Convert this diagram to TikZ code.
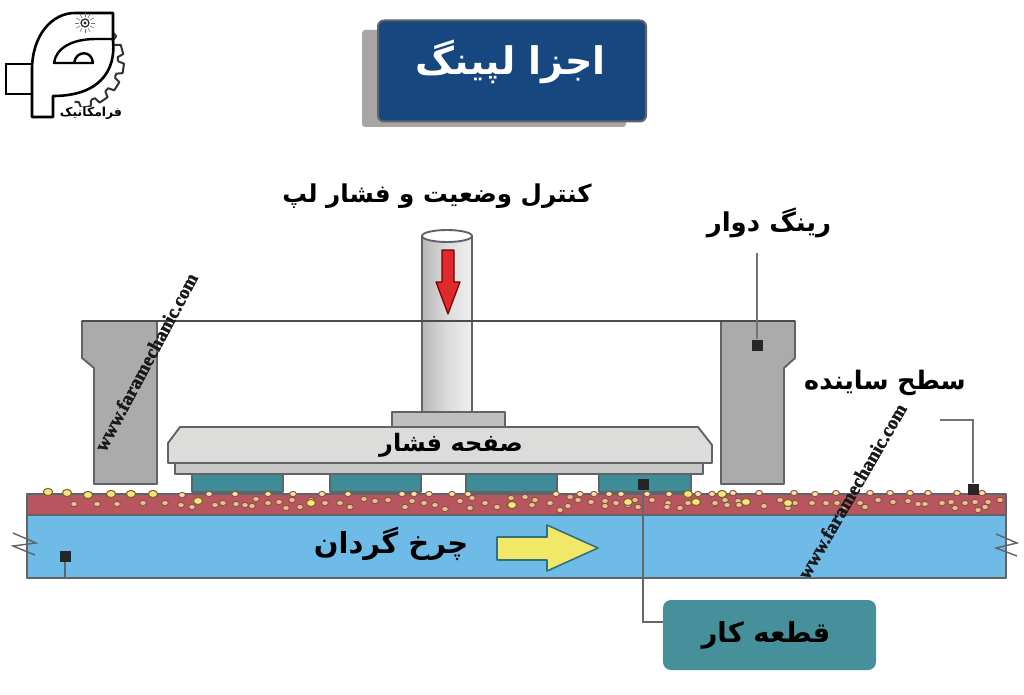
\documentclass[tikz,border=0pt]{standalone}
\usepackage{fontspec}
\setmainfont{Liberation Serif}
\newfontfamily\arabicfont[Script=Arabic,BoldFont={DejaVu Sans Bold}]{DejaVu Sans}
\newfontfamily\wmfont[BoldFeatures={FakeBold=1.6}]{Liberation Serif}
\TeXXeTstate=1
\definecolor{edge}{HTML}{5E6468}
\definecolor{ringg}{HTML}{ABABAB}
\definecolor{plateg}{HTML}{DCDCDA}
\definecolor{teal1}{HTML}{3F8C99}
\definecolor{red1}{HTML}{B8565F}
\definecolor{blue1}{HTML}{6FBBE8}
\definecolor{navy}{HTML}{17477F}
\definecolor{boxteal}{HTML}{45909A}
\definecolor{shadowg}{HTML}{A9A5A5}
\definecolor{arrowred}{HTML}{DE2A2C}
\definecolor{arrowyel}{HTML}{F2E868}
\tikzset{
  part/.style={draw=edge,line width=1.9pt,line join=round},
  lead/.style={draw=black!55,line width=1.8pt},
  mark box/.style={fill=black!85,draw=none,minimum size=11pt,inner sep=0pt},
  label/.style={font=\arabicfont\bfseries,text=black,inner sep=0pt},
  wm/.style={text=black!90,inner sep=0pt},
  grain/.style={draw=red!35!black!70,fill=red1!60!yellow!60!white,line width=.9pt},
  gold/.style={draw=olive!75!black,fill=yellow!55!orange!45!white,line width=1.1pt},
}
\begin{document}
\begin{tikzpicture}[x=1pt,y=-1pt]
\useasboundingbox (0,0) rectangle (1024,695);
\fill[white] (0,0) rectangle (1024,695);
% title
\fill[shadowg,rounded corners=3pt] (362,30) rectangle (626,127);
\node[draw=edge,line width=2pt,fill=navy,rounded corners=6pt,minimum width=268pt,minimum height=101pt,inner sep=0pt] (title) at (512,71) {};
\node[label,text=white,font=\arabicfont\bfseries\fontsize{38}{40}\selectfont] (titlet) at (511,62) {\beginR اجزا لپینگ\endR};
% wheel layers
\path[part,fill=blue1] (27,515) rectangle (1006,578);
\path[part,fill=red1] (27,494) rectangle (1006,515);
% workpieces
\foreach \a/\b in {192/283,330/421,466/557,599/691}
  \path[part,fill=teal1] (\a,474) rectangle (\b,492);
% rings
\path[part,fill=ringg] (82,321) -- (157,321) -- (157,484) -- (94,484) -- (94,368) -- (82,358) -- cycle;
\path[part,fill=ringg] (721,321) -- (795,321) -- (795,358) -- (784,368) -- (784,484) -- (721,484) -- cycle;
% pressure plate
\path[part,fill=black!22] (175,463) rectangle (703,474);
\path[part,fill=plateg] (180,427) -- (698,427) -- (712,445) -- (712,463) -- (168,463) -- (168,443) -- cycle;
\path[part,fill=black!25] (392,412) rectangle (505,427);
% cylinder
\path[part,left color=black!28,right color=black!6,middle color=black!14] (422,236) -- (422,412) -- (472,412) -- (472,236) -- cycle;
\path[part,fill=white] (447,236) ellipse [x radius=25,y radius=6];
\draw[black!70,line width=1.6pt] (82,321) -- (795,321);
% arrows
\path[draw=red!45!black,fill=arrowred,line width=1.2pt,line join=round] (442,250) -- (454,250) -- (454,282) -- (460,282) -- (448,314) -- (436,282) -- (442,282) -- cycle;
\path[draw=teal1!80!black,fill=arrowyel,line width=1.6pt,line join=round] (497,537) -- (547,537) -- (547,525) -- (598,548) -- (547,571) -- (547,560) -- (497,560) -- cycle;
% grains
\foreach \x/\y in {74/504,97/504,117/504,143/503,165/503,181/505,192/507,215/505,223/503,236/504,245/505,252/506,256/499,268/503,279/502,286/508,311/500,325/503,292/500,340/503,350/507,364/499,375/501,388/500,412/501,424/503,435/505,460/501,470/508,472/498,485/503,497/507,510/505,511/498,525/497,532/505,550/503,535/500,568/506,570/497,591/502,578/500,605/501,616/503,628/505,635/500,605/506,652/500,668/503,638/507,667/507,688/503,714/504,725/500,738/501,715/503,727/505,739/505,746/501,764/506,780/500,788/508,795/503,812/503,826/503,837/503,860/503,865/507,878/500,893/502,908/501,918/504,925/504,942/503,951/502,965/503,975/502,985/507,988/502,1000/500,978/510,955/508,845/507,300/507,405/507,445/509,560/510,680/508}
  \path[grain] (\x,\y) ellipse [x radius=3.4,y radius=2.7];
\foreach \x/\y in {182/495,209/494,235/494,268/494,293/494,322/494,348/494,402/494,414/494,429/494,452/494,468/494,556/494,580/494,594/494,609/494,621/494,647/494,669/494,698/494,712/494,733/493,759/493,794/493,815/494,836/493,870/493,890/493,910/493,928/493,957/493,982/493}
  \path[grain,fill=yellow!50!orange!35!white] (\x,\y) ellipse [x radius=3.4,y radius=2.6];
\foreach \x/\y in {48/492,67/493,88/495,111/494,131/494,153/494,198/501,311/503,512/505,628/502,696/502,688/494,722/494,746/502,788/503}
  \path[gold] (\x,\y) ellipse [x radius=4.6,y radius=3.6];
% break marks
\draw[edge,line width=1.4pt] (13,533) -- (36,543) -- (13,546) -- (35,555);
\draw[edge,line width=1.4pt] (996,534) -- (1017,543) -- (996,548) -- (1017,556);
% markers and leaders
\node[mark box] (m1) at (65,556) {};
\coordinate (m1e) at (65,578);
\draw[lead,draw=edge] (m1) -- (m1e);
\node[mark box] (m2) at (757,345) {};
\coordinate (m2e) at (757,253);
\draw[lead] (m2) -- (m2e);
\node[mark box] (m3) at (973,489) {};
\coordinate (m3e) at (940,420);
\draw[lead] (m3) |- (m3e);
% bottom box
\node[fill=boxteal,rounded corners=8pt,minimum width=213pt,minimum height=70pt,inner sep=0pt] (box) at (769.5,635) {};
\node[mark box] (m4) at (643,484) {};
\draw[lead,draw=black!60] (m4) |- ([yshift=13pt]box.west);
% labels
\node[label,font=\arabicfont\bfseries\fontsize{24.6}{26}\selectfont] (l1) at (437,196) {\beginR کنترل وضعیت و فشار لپ\endR};
\node[label,font=\arabicfont\bfseries\fontsize{26}{28}\selectfont] (l2) at (769,223) {\beginR رینگ دوار\endR};
\node[label,font=\arabicfont\bfseries\fontsize{25.5}{27}\selectfont] (l3) at (885,383) {\beginR سطح ساینده\endR};
\node[label,font=\arabicfont\bfseries\fontsize{24}{26}\selectfont] (l4) at (451,445) {\beginR صفحه فشار\endR};
\node[label,font=\arabicfont\bfseries\fontsize{29}{31}\selectfont] (l5) at (391,544) {\beginR چرخ گردان\endR};
\node[label,font=\arabicfont\bfseries\fontsize{27.5}{29}\selectfont] (l6) at (766,635) {\beginR قطعه کار\endR};
% watermarks
\node[wm,font=\wmfont\bfseries\fontsize{19.4}{21}\selectfont,rotate=62] (w1) at (146,362) {www.faramechanic.com};
\node[wm,font=\wmfont\bfseries\fontsize{19.4}{21}\selectfont,rotate=60] (w2) at (852,491) {www.faramechanic.com};
% logo: gear
\begin{scope}[shift={(78,62)}]
\foreach \t in {-40,-16,8,32,56,80}{
  \draw[black!80,line width=2pt,line join=round] (\t-9:40) -- (\t-6:46) -- (\t+6:46) -- (\t+9:40) arc [start angle=\t+9,end angle=\t+15,radius=40];
}
\end{scope}
% logo: letter form
\draw[black,line width=2.4pt,fill=white] (6,64) rectangle (32,94);
\fill[white] (32,117) -- (32,70) .. controls (32,35) and (52,13) .. (75,13) -- (113,13) -- (113,41) .. controls (116,70) and (100,96) .. (53,96) -- (53,117) -- cycle;
\draw[black,line width=2.6pt,line join=round] (113,41) -- (113,13) -- (75,13) .. controls (52,13) and (32,35) .. (32,70) -- (32,117) -- (53,117) -- (53,96) .. controls (100,96) and (116,70) .. (113,41);
\draw[black,line width=2.4pt,line join=round] (113,39) -- (96,39) .. controls (72,39) and (56,48) .. (54,63) -- (93,63) .. controls (92,50) and (76,50) .. (74,63);
\draw[black!85,line width=1.2pt] (85,23) circle (4);
\fill[black!85] (85,23) circle (1.6);
\foreach \t in {0,30,...,330} \draw[line width=.6pt,black!55] (85,23) ++(\t:6) -- ++(\t:4);
\node[label,font=\arabicfont\bfseries\fontsize{12.4}{13}\selectfont,fill=white] (logot) at (91,113) {\beginR فرامکانیک\endR};
\end{tikzpicture}
\end{document}
